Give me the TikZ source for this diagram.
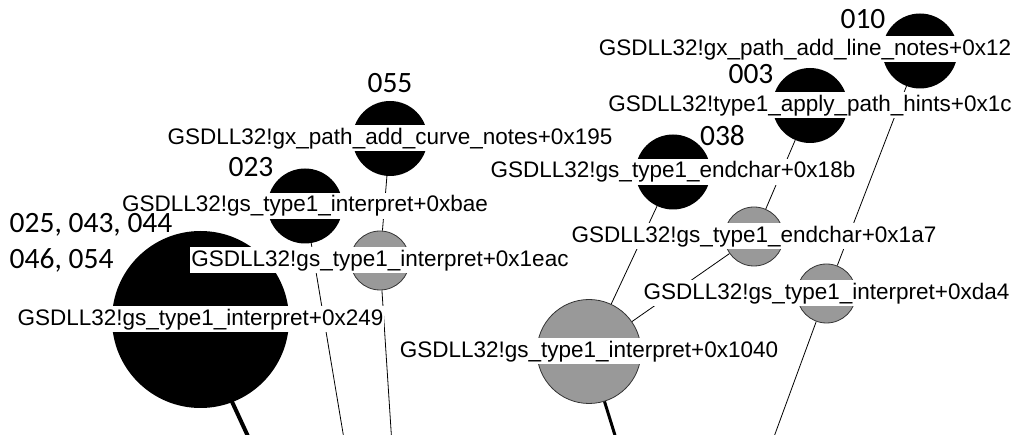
\documentclass[tikz,border=0pt]{standalone}
\usepackage{fontspec}
\setmainfont{Liberation Sans}
\newfontfamily\idfont{Carlito}
\pgfdeclarelayer{bg}
\pgfdeclarelayer{fg}
\pgfsetlayers{bg,main,fg}
\definecolor{nodegray}{gray}{0.6}
\definecolor{rimgray}{gray}{0.2}
\tikzset{
    leafnode/.style={circle, fill=black, inner sep=0pt},
    midnode/.style={circle, fill=nodegray, draw=rimgray, line width=0.8pt, inner sep=0pt},
    fnlabel/.style={fill=white, inner xsep=1pt, inner ysep=2pt, text height=17pt, text depth=5pt, font=\fontsize{22.5}{27}\selectfont},
    idlabel/.style={inner sep=0pt, font=\idfont\fontsize{29.5}{35}\selectfont},
    link/.style={line width=0.8pt},
    trunk/.style={line width=4pt, line cap=round}
}
\begin{document}
\begin{tikzpicture}[x=1pt,y=-1pt]
                        \useasboundingbox (0,0) rectangle (1012,435);
                        \clip (0,0) rectangle (1012,435);

                        \foreach \n/\x/\y/\d/\s in {249/200.5/319.5/177/leafnode, bae/305/206/75/leafnode, 195/390/138.5/75/leafnode,
                                                    1eac/380/260.5/59/midnode, 1040/589/351.5/104/midnode, 18b/673/172/75/leafnode,
                                                    1a7/754/236.5/59/midnode, da4/826.5/293.5/59/midnode, 1c/810/105.5/75/leafnode,
                                                    12/920/51/75/leafnode} {
                            \node[\s, minimum size=\d pt] (n\n) at (\x,\y) {};
                        }

                        \begin{pgfonlayer}{bg}
                            \coordinate (e249) at (252,445);
                            \coordinate (ebae) at (345,445);
                            \coordinate (e1eac) at (392,445);
                            \coordinate (e1040) at (618,445);
                            \coordinate (eda4) at (771,445);
                            \draw[trunk] (n249.-69) -- (e249);
                            \draw[trunk, line width=3pt] (n1040) -- (e1040);
                            \foreach \a/\b in {195/1eac, 18b/1040, 1a7/1040, 1c/1a7, 12/da4} {
                                \draw[link] (n\a) -- (n\b);
                            }
                            \foreach \a in {bae, 1eac, da4} {
                                \draw[link] (n\a) -- (e\a);
                            }
                        \end{pgfonlayer}

                        \begin{pgfonlayer}{fg}
                            \foreach \n/\t in {249/gs\_type1\_interpret+0x249, bae/gs\_type1\_interpret+0xbae,
                                               195/gx\_path\_add\_curve\_notes+0x195, 1eac/gs\_type1\_interpret+0x1eac,
                                               1040/gs\_type1\_interpret+0x1040, 18b/gs\_type1\_endchar+0x18b,
                                               1a7/gs\_type1\_endchar+0x1a7, da4/gs\_type1\_interpret+0xda4,
                                               1c/type1\_apply\_path\_hints+0x1c} {
                                \node[fnlabel] (l\n) at (n\n) {GSDLL32!\t};
                            }
                            \node[fnlabel] (l12) at (805,49.5) {GSDLL32!gx\_path\_add\_line\_notes+0x12};

                            \node[idlabel, anchor=base west] (id249a) at (9.5,233) {025, 043, 044};
                            \node[idlabel, anchor=base west] (id249b) at (9.5,269) {046, 054};
                            \foreach \n/\x/\y/\t in {195/390/93/055, bae/251/177/023, 18b/722.5/146/038, 1c/751/84/003, 12/863/29/010} {
                                \node[idlabel, anchor=base] (id\n) at (\x,\y) {\t};
                            }
                        \end{pgfonlayer}
                    \end{tikzpicture}
\end{document}
